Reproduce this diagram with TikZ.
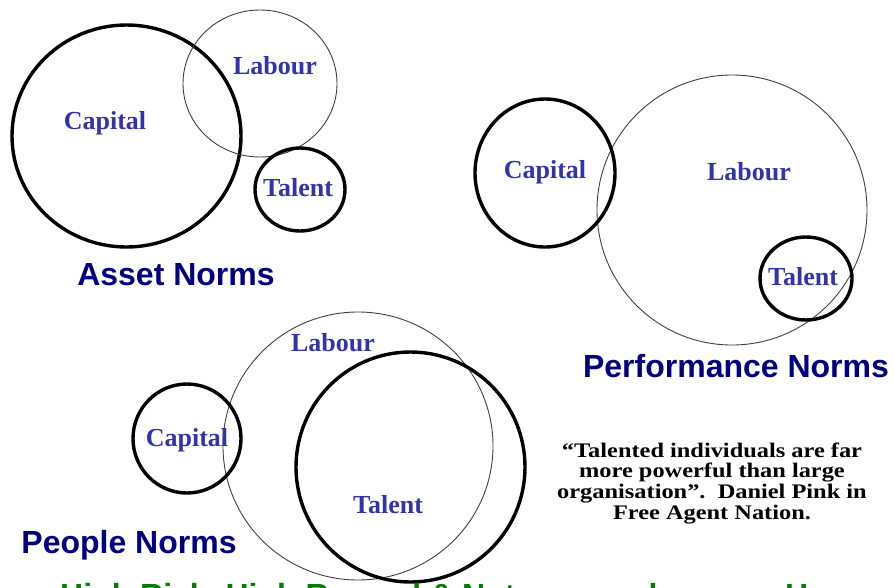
\documentclass[tikz,border=0pt]{standalone}
\usepackage{fontspec}
\setmainfont{Liberation Serif}
\newfontfamily\headfont{Liberation Sans}
\usetikzlibrary{shapes.geometric}
\definecolor{lblue}{RGB}{52,52,170}
\definecolor{navy}{RGB}{0,0,128}
\definecolor{dgreen}{RGB}{0,128,0}
\tikzset{
  heavy/.style={draw=black, line width=3.4pt, ellipse, inner sep=0pt, minimum width=2*#1},
  light/.style={draw=black!75, line width=0.9pt, ellipse, inner sep=0pt, minimum width=2*#1},
  lab/.style={text=lblue, font=\fontsize{26}{28}\selectfont\bfseries, inner sep=0pt},
  title/.style={text=navy, font=\headfont\fontsize{32}{34}\selectfont\bfseries, inner sep=0pt},
}
\begin{document}
\begin{tikzpicture}[x=1pt,y=-1pt]
\useasboundingbox (0,0) rectangle (894,587);
\clip (0,0) rectangle (894,587);
\fill[white] (0,0) rectangle (894,587);

% Asset Norms
\node[heavy=114.5pt, minimum height=222pt] (ac) at (126.5,136) {};
\node[light=77pt, minimum height=147pt] (al) at (260,83.5) {};
\node[heavy=45pt, minimum height=83pt] (at) at (300,189.5) {};
\node[lab] (acl) at (105,123) {Capital};
\node[lab] (all) at (275,66) {Labour};
\node[lab] (atl) at (298,188) {Talent};
\node[title] (an) at (176,275) {Asset Norms};

% Performance Norms
\node[light=135pt, minimum height=270pt] (pl) at (732,210) {};
\node[heavy=70pt, minimum height=148pt] (pc) at (545,173) {};
\node[heavy=46pt, minimum height=83pt] (pt) at (806,278.5) {};
\node[lab] (pcl) at (545,172) {Capital};
\node[lab] (pll) at (749,172) {Labour};
\node[lab] (ptl) at (803,277) {Talent};
\node[title] (pn) at (736,366) {Performance Norms};

% People Norms
\node[light=135pt, minimum height=268pt] (ql) at (358,446) {};
\node[heavy=54pt, minimum height=109pt] (qc) at (187,438.5) {};
\node[heavy=114.5pt, minimum height=230pt] (qt) at (410.5,467) {};
\node[lab] (qcl) at (187,440) {Capital};
\node[lab] (qll) at (333,343) {Labour};
\node[lab] (qtl) at (388,505) {Talent};
\node[title] (qn) at (129,545) {People Norms};

% Quotation
\node[inner sep=0pt] (quote) at (712,484) {\scalebox{1.06}[0.9]{\fontsize{23}{23}\selectfont\bfseries
  \begin{tabular}{@{}c@{}}
  “Talented individuals are far\\
  more powerful than large\\
  organisation”.\ \ Daniel Pink in\\
  Free Agent Nation.
  \end{tabular}}};

% Footer line, mostly below the lower edge
\node[anchor=base west, inner sep=0pt, text=dgreen, font=\headfont\fontsize{32}{34}\selectfont\bfseries] (foot) at (60,606) {High Risk, High Reward \& Not a normal career: Heroes};
\end{tikzpicture}
\end{document}
